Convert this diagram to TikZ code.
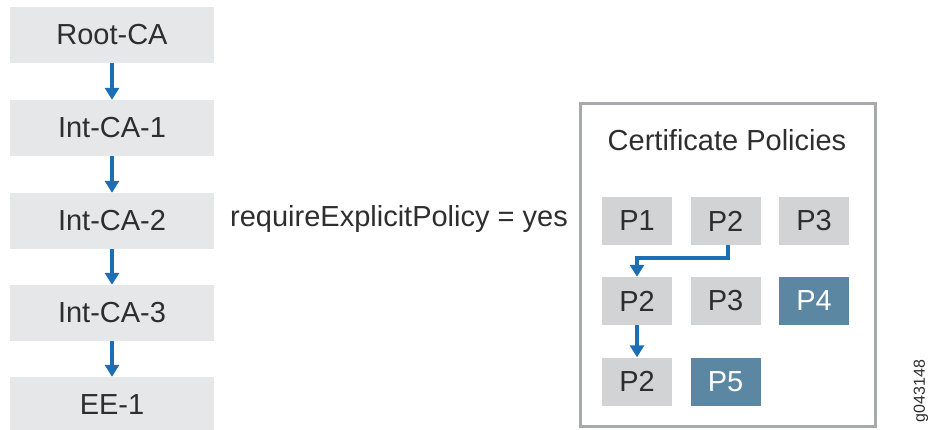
\documentclass[tikz,border=0pt]{standalone}
\usepackage{fontspec}
\setmainfont{Liberation Sans}
\usetikzlibrary{arrows.meta}
\definecolor{boxgray}{HTML}{E6E7E8}
\definecolor{pgray}{HTML}{D1D3D4}
\definecolor{pdark}{HTML}{5C87A2}
\definecolor{arrblue}{HTML}{1C6FB4}
\definecolor{txt}{HTML}{2E2E2E}
\definecolor{frame}{HTML}{A7A9AC}
\begin{document}
\begin{tikzpicture}[x=1pt,y=-1pt,
  cabox/.style={fill=boxgray,minimum width=204pt,minimum height=56pt,inner sep=0pt,text=txt,font=\fontsize{29}{33}\selectfont},
  pbox/.style={fill=pgray,minimum width=70pt,minimum height=48pt,inner sep=0pt,text=txt,font=\fontsize{29}{33}\selectfont},
  pdbox/.style={pbox,fill=pdark,text=white},
  conn/.style={draw=arrblue,line width=3.3pt,-{Triangle[length=12pt,width=14pt]}}]
\useasboundingbox (0,0) rectangle (928,430);
% left chain
\node[cabox] (root) at (112,35) {Root-CA};
\node[cabox] (i1) at (112,128) {Int-CA-1};
\node[cabox] (i2) at (112,221) {Int-CA-2};
\node[cabox] (i3) at (112,313) {Int-CA-3};
\begin{scope}
\clip (0,0) rectangle (928,430);
\node[cabox] (ee) at (112,405) {EE-1};
\end{scope}
\draw[conn] (root.south) -- (i1.north);
\draw[conn] (i1.south) -- (i2.north);
\draw[conn] (i2.south) -- (i3.north);
\draw[conn] (i3.south) -- (ee.north);
% label
\node[text=txt,font=\fontsize{29}{33}\selectfont,inner sep=0pt] (req) at (399,219) {requireExplicitPolicy = yes};
% right panel
\node[draw=frame,line width=3pt,minimum width=295pt,minimum height=323pt,inner sep=0pt] (panel) at (728,265) {};
\node[text=txt,font=\fontsize{29}{33}\selectfont,inner sep=0pt] (title) at (727,140) {Certificate Policies};
\node[pbox] (p1a) at (637,221) {P1};
\node[pbox] (p2a) at (725.5,221) {P2};
\node[pbox] (p3a) at (814,221) {P3};
\node[pbox] (p2b) at (637,301) {P2};
\node[pbox] (p3b) at (725.5,301) {P3};
\node[pdbox] (p4b) at (814,301) {P4};
\node[pbox] (p2c) at (637,381.5) {P2};
\node[pdbox] (p5c) at (725.5,381.5) {P5};
\coordinate (k1) at (728,258);
\draw[conn] (p2a.south -| k1) -- (k1) -| (p2b.north);
\draw[conn] (p2b.south) -- (p2c.north);
\node[rotate=90,text=txt,font=\fontsize{16}{19}\selectfont,inner sep=0pt] (gid) at (921,391) {g043148};
\end{tikzpicture}
\end{document}
